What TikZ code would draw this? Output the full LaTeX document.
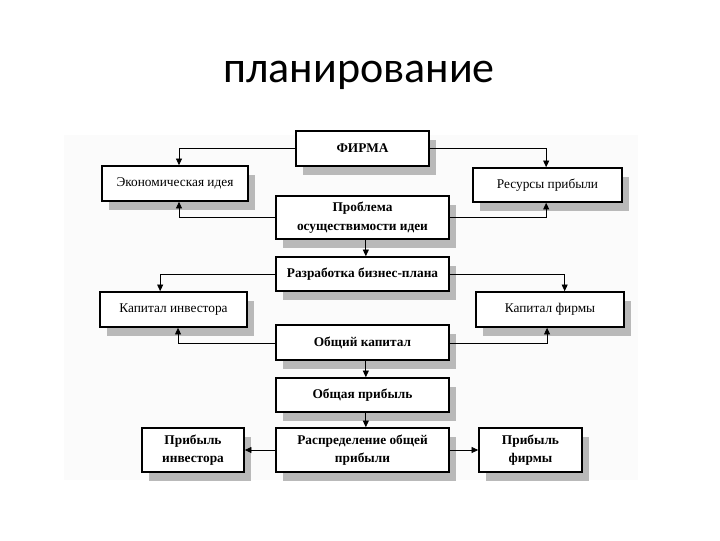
\documentclass[tikz,border=0pt]{standalone}
\usepackage{fontspec}
\setmainfont{Liberation Serif}
\newfontfamily\titlefont{Carlito}
\usetikzlibrary{arrows.meta,shadows}
\def\px{0.75pt}
\tikzset{
  box/.style={draw=black, line width=1.2pt, fill=white, inner sep=0pt, align=center,
    font=\fontsize{10}{13}\selectfont,
    general shadow={fill=gray!55, shadow xshift=5.5pt, shadow yshift=-6.5pt}},
  boldbox/.style={box, font=\fontsize{10}{14}\selectfont\bfseries},
  arr/.style={draw=black, line width=0.6pt, -{Triangle[length=5pt,width=4.5pt]}}
}
\begin{document}
\begin{tikzpicture}[x=0.75pt,y=-0.75pt]
\useasboundingbox (0,0) rectangle (720,540);
\fill[white] (0,0) rectangle (720,540);
\fill[gray!3] (64,135) rectangle (638,480);
\node[anchor=base, font=\titlefont\fontsize{33}{36}\selectfont] (title) at (359,82) {планирование};

\node[boldbox, minimum width={133*\px}, minimum height={35*\px}] (firma) at (362.5,148.5) {ФИРМА};
\node[box, minimum width={146*\px}, minimum height={35*\px}] (econ) at (175,183.5) {Экономическая идея};
\node[box, minimum width={149*\px}, minimum height={34*\px}] (res) at (547.5,185) {Ресурсы прибыли};
\node[boldbox, minimum width={173*\px}, minimum height={43*\px}] (prob) at (362.5,217.5) {Проблема\\осуществимости идеи};
\node[boldbox, minimum width={173*\px}, minimum height={34*\px}] (razr) at (362.5,274) {Разработка бизнес-плана};
\node[box, minimum width={147*\px}, minimum height={35*\px}] (kinv) at (173.5,309.5) {Капитал инвестора};
\node[box, minimum width={148*\px}, minimum height={35*\px}] (kfirm) at (550,309.5) {Капитал фирмы};
\node[boldbox, minimum width={173*\px}, minimum height={35*\px}] (obk) at (362.5,342.5) {Общий капитал};
\node[boldbox, minimum width={173*\px}, minimum height={34*\px}] (obp) at (362.5,395) {Общая прибыль};
\node[boldbox, minimum width={173*\px}, minimum height={44*\px}] (raspr) at (362.5,450) {Распределение общей\\прибыли};
\node[boldbox, minimum width={102*\px}, minimum height={44*\px}] (pinv) at (193,450) {Прибыль\\инвестора};
\node[boldbox, minimum width={103*\px}, minimum height={44*\px}] (pfirm) at (530.5,450) {Прибыль\\фирмы};

\draw[arr] (firma.west) -| ([xshift=3pt]econ.north);
\draw[arr] (firma.east) -| ([xshift=-1pt]res.north);
\draw[arr] (prob.west) -| ([xshift=3pt]econ.south);
\draw[arr] (prob.east) -| ([xshift=-1pt]res.south);
\draw[arr] ([xshift=2.5pt]prob.south) -- ([xshift=2.5pt]razr.north);
\draw[arr] (razr.west) -| ([xshift=-10pt]kinv.north);
\draw[arr] (razr.east) -| ([xshift=11pt]kfirm.north);
\draw[arr] ([yshift=-1pt]obk.west) -| ([xshift=3.4pt]kinv.south);
\draw[arr] ([yshift=-1pt]obk.east) -| ([xshift=-2.2pt]kfirm.south);
\draw[arr] ([xshift=2.5pt]obk.south) -- ([xshift=2.5pt]obp.north);
\draw[arr] ([xshift=2.5pt]obp.south) -- ([xshift=2.5pt]raspr.north);
\draw[arr] (raspr.west) -- (pinv.east);
\draw[arr] (raspr.east) -- (pfirm.west);
\end{tikzpicture}
\end{document}
